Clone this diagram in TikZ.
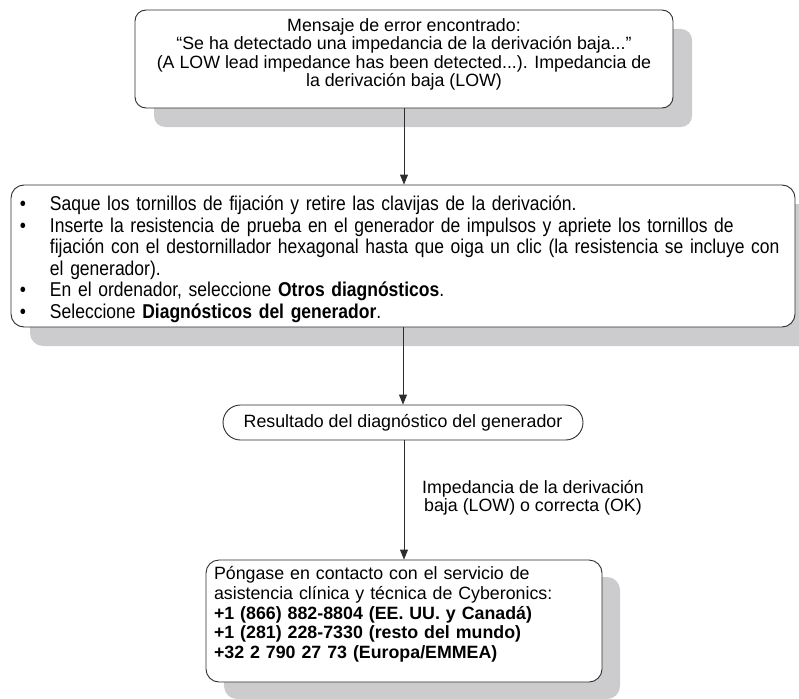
\documentclass[tikz,border=0pt]{standalone}
\usepackage{fontspec}
\setmainfont{Liberation Sans}
\newfontfamily\narrowfont[FakeStretch=0.875]{Liberation Sans}
\usepackage{enumitem}
\usetikzlibrary{arrows.meta,shadows}
\definecolor{shgray}{RGB}{204,204,206}
\definecolor{edgec}{RGB}{45,45,45}
\begin{document}
\begin{tikzpicture}[x=1pt,y=-1pt,
  box/.style={draw=edgec, line width=0.9pt, fill=white, inner sep=0pt},
  shadowA/.style={drop shadow={shadow xshift=19pt, shadow yshift=-19pt, fill=shgray, opacity=1}},
  shadowB/.style={drop shadow={shadow xshift=18pt, shadow yshift=-17pt, fill=shgray, opacity=1}},
  mainfont/.style={font=\fontsize{17.8}{18.3}\selectfont},
  arr/.style={draw=edgec, line width=0.9pt, -{Triangle[length=10pt,width=8pt]}}]
\useasboundingbox (0,0) rectangle (799,698);

\node[box, shadowA, rounded corners=11pt, minimum width=538, minimum height=98,
      align=center, mainfont] (b1) at (404,59)
  {Mensaje de error encontrado:\\
   “Se ha detectado una impedancia de la derivación baja...”\\
   (A LOW lead impedance has been detected...). Impedancia de\\
   la derivación baja (LOW)\rule[-13pt]{0pt}{13pt}};

\node[box, shadowA, rounded corners=13pt, minimum width=784, minimum height=142,
      text width=774, inner xsep=5pt, align=left,
      font=\narrowfont\fontsize{20}{21.5}\selectfont] (b2) at (403,256)
  {\begin{itemize}[label=\textbullet, leftmargin=34pt, labelsep=24pt,
                   topsep=0pt, partopsep=0pt, itemsep=0pt, parsep=0pt]
   \item \mbox{Saque los tornillos de fijación y retire las clavijas de la derivación.}
   \item \mbox{Inserte la resistencia de prueba en el generador de impulsos y apriete los tornillos de}\\
         \mbox{fijación con el destornillador hexagonal hasta que oiga un clic (la resistencia se incluye con}\\
         \mbox{el generador).}
   \item \mbox{En el ordenador, seleccione \textbf{Otros diagnósticos}.}
   \item \mbox{Seleccione \textbf{Diagnósticos del generador}.}
   \end{itemize}};

\node[box, rounded corners=17.5pt, minimum width=360, minimum height=35, mainfont]
  (b3) at (403,422.5) {Resultado del diagnóstico del generador};

\node[box, shadowB, rounded corners=13pt, minimum width=396, minimum height=122,
      text width=380, inner xsep=8pt, align=left,
      font=\fontsize{17.8}{19.7}\selectfont] (b4) at (404,621)
  {Póngase en contacto con el servicio de\\
   asistencia clínica y técnica de Cyberonics:\\
   \textbf{+1 (866) 882-8804 (EE. UU. y Canadá)}\\
   \textbf{+1 (281) 228-7330 (resto del mundo)}\\
   \textbf{+32 2 790 27 73 (Europa/EMMEA)}\rule[-17pt]{0pt}{17pt}};

\node[align=center, mainfont, inner sep=0pt] (lbl) at (533,498)
  {Impedancia de la derivación\\ baja (LOW) o correcta (OK)};

\draw[arr] (b1.south) -- (b1.south |- b2.north);
\draw[arr] (b2.south -| b3.north) -- (b3.north);
\draw[arr] (b3.south -| b4.north) -- (b4.north);
\end{tikzpicture}
\end{document}
